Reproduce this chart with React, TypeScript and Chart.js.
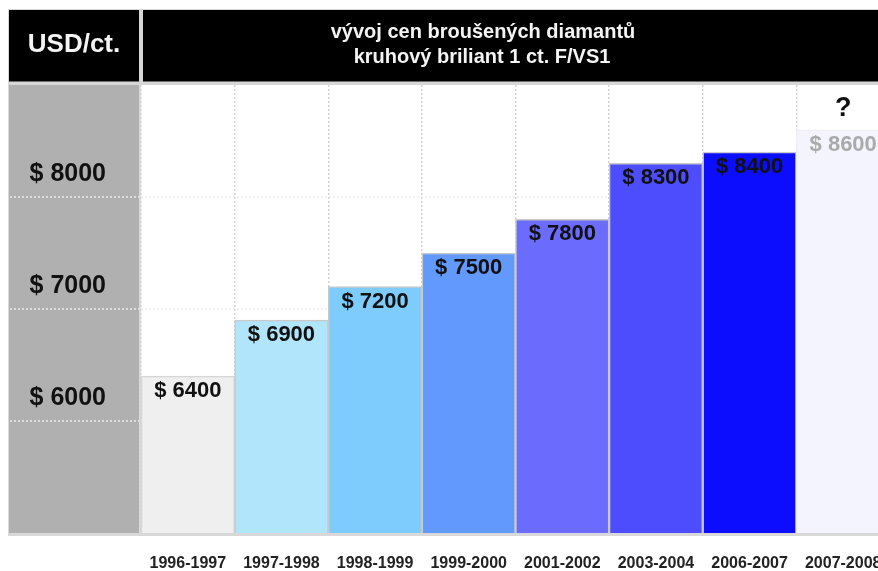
import { useEffect, useRef } from 'react';
import { Chart, registerables } from 'chart.js';

Chart.register(...registerables);

// ---- data ----
const periods = ['1996-1997', '1997-1998', '1998-1999', '1999-2000', '2001-2002', '2003-2004', '2006-2007', '2007-2008'];
const pricesUsd = [6400, 6900, 7200, 7500, 7800, 8300, 8400, 8600];
const axisTicks = [6000, 7000, 8000];
const axisMin = 5000;
const axisMax = 9000;
const barColors = ['#efefef', '#b0e5fc', '#7ecbfd', '#6199fd', '#6b6bfe', '#4d4dfd', '#0c0cff', '#f4f4fe'];
const barBorders = ['#d6d6d6', '#c9c9c9', '#c9c9c9', '#c9c9c9', '#c9c9c9', '#c9c9c9', '#c9c9c9', '#f0f0f6'];
const labelColors = ['#111111', '#111111', '#111111', '#111111', '#111111', '#111111', '#111111', '#aaaaaa'];
const unitLabel = 'USD/ct.';
const titleLines = ['vývoj cen broušených diamantů', 'kruhový briliant 1 ct. F/VS1'];
const forecastMark = '?';

const FONT = '"Liberation Sans", Arial, Helvetica, sans-serif';
const W = 892;
const H = 571;

const noPad = (s: any) => {
  s.paddingLeft = 0;
  s.paddingRight = 0;
  s.paddingTop = 0;
  s.paddingBottom = 0;
};

export default function App() {
  const ref = useRef<HTMLCanvasElement>(null);

  useEffect(() => {
    const canvas = ref.current;
    if (!canvas) return;

    const decor = {
      id: 'decor',
      beforeDraw(chart: any) {
        const { ctx, chartArea: a } = chart;
        const ys = chart.scales.y;
        ctx.save();
        // header frame
        ctx.fillStyle = '#d6d6d6';
        ctx.fillRect(8, 9, W - 8, a.top - 9);
        ctx.fillStyle = '#000000';
        ctx.fillRect(9, 10, 130, 71.5);
        ctx.fillRect(143, 10, W - 143, 71.5);
        // header texts
        ctx.fillStyle = '#f4f4f4';
        ctx.textAlign = 'center';
        ctx.textBaseline = 'middle';
        ctx.font = `bold 26px ${FONT}`;
        ctx.fillText(unitLabel, 74, 45);
        ctx.font = `bold 20px ${FONT}`;
        ctx.fillText(titleLines[0], 483, 32);
        ctx.fillText(titleLines[1], 482, 57);
        // gray unit column
        ctx.fillStyle = '#dadada';
        ctx.fillRect(8, a.top, a.left - 8, a.bottom - a.top);
        ctx.fillStyle = '#b0b0b0';
        ctx.fillRect(9, a.top, a.left - 11, a.bottom - a.top);
        // dotted lines across the gray column
        ctx.strokeStyle = 'rgba(225,225,225,0.9)';
        ctx.lineWidth = 2;
        ctx.setLineDash([2, 2]);
        axisTicks.forEach((v) => {
          const y = Math.round(ys.getPixelForValue(v));
          ctx.beginPath();
          ctx.moveTo(10, y);
          ctx.lineTo(a.left, y);
          ctx.stroke();
        });
        ctx.restore();
      },
      afterDraw(chart: any) {
        const { ctx, chartArea: a } = chart;
        ctx.save();
        // bottom base line
        ctx.fillStyle = '#d8d8d8';
        ctx.fillRect(8, a.bottom, W - 8, 3);
        // value labels
        const meta = chart.getDatasetMeta(0);
        ctx.textAlign = 'center';
        ctx.textBaseline = 'middle';
        meta.data.forEach((bar: any, i: number) => {
          ctx.font = `bold 22px ${FONT}`;
          ctx.fillStyle = labelColors[i];
          ctx.fillText(`$ ${pricesUsd[i]}`, bar.x, bar.y + 15);
        });
        const last = meta.data[meta.data.length - 1];
        ctx.font = `bold 27px ${FONT}`;
        ctx.fillStyle = '#111111';
        ctx.fillText(forecastMark, last.x, last.y - 21);
        ctx.restore();
      },
    };

    const chart = new Chart(canvas, {
      type: 'bar',
      data: {
        labels: periods,
        datasets: [
          {
            data: pricesUsd,
            backgroundColor: barColors,
            borderColor: barBorders,
            borderWidth: 1.5,
            barPercentage: 1,
            categoryPercentage: 1,
          },
        ],
      },
      options: {
        responsive: false,
        devicePixelRatio: 1,
        animation: false,
        layout: { autoPadding: false, padding: { top: 85, left: 9, right: 2, bottom: 0 } },
        plugins: { legend: { display: false }, tooltip: { enabled: false } },
        scales: {
          x: {
            type: 'category',
            grid: { color: '#d2d2d2', lineWidth: 1.5, drawTicks: false, offset: true },
            border: { display: false, dash: [2, 2] },
            ticks: {
              autoSkip: false,
              maxRotation: 0,
              padding: 21,
              color: '#222222',
              font: { family: FONT, size: 16, weight: 'bold' },
            },
            afterFit: (s: any) => {
              s.height = 38;
              noPad(s);
            },
          },
          y: {
            min: axisMin,
            max: axisMax,
            z: 1,
            afterBuildTicks: (s: any) => {
              s.ticks = axisTicks.map((v) => ({ value: v }));
            },
            afterFit: (s: any) => {
              s.width = 132;
              noPad(s);
            },
            grid: { color: 'rgba(236,236,236,0.8)', lineWidth: 2, drawTicks: false },
            border: { display: false, dash: [2, 2] },
            ticks: {
              padding: 35,
              labelOffset: -23,
              color: '#111111',
              font: { family: FONT, size: 25, weight: 'bold' },
              callback: (v: any) => `$ ${v}`,
            },
          },
        },
      },
      plugins: [decor],
    });

    return () => chart.destroy();
  }, []);

  return (
    <div style={{ position: 'fixed', left: 0, top: 0, width: 878, height: 571, overflow: 'hidden', background: '#ffffff' }}>
      <canvas ref={ref} width={W} height={H} style={{ display: 'block', width: W, height: H }} />
    </div>
  );
}
